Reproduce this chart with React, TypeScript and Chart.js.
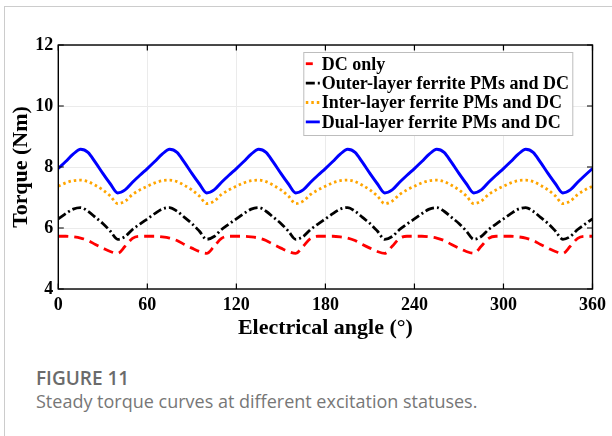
import React, { useEffect, useRef } from "react";
import { Chart, registerables } from "chart.js";

Chart.register(...registerables);

// ---- data ----
const angles = [
  0, 5, 10, 15, 20, 25, 30, 35, 40, 45, 50, 55,
  60, 65, 70, 75, 80, 85, 90, 95, 100, 105, 110, 115,
  120, 125, 130, 135, 140, 145, 150, 155, 160, 165, 170, 175,
  180, 185, 190, 195, 200, 205, 210, 215, 220, 225, 230, 235,
  240, 245, 250, 255, 260, 265, 270, 275, 280, 285, 290, 295,
  300, 305, 310, 315, 320, 325, 330, 335, 340, 345, 350, 355,
  360,
];

const dcOnly = [
  5.73, 5.73, 5.71, 5.67, 5.59, 5.46, 5.34, 5.23, 5.17, 5.4, 5.66, 5.73,
  5.73, 5.73, 5.71, 5.67, 5.59, 5.46, 5.34, 5.23, 5.17, 5.4, 5.66, 5.73,
  5.73, 5.73, 5.71, 5.67, 5.59, 5.46, 5.34, 5.23, 5.17, 5.4, 5.66, 5.73,
  5.73, 5.73, 5.71, 5.67, 5.59, 5.46, 5.34, 5.23, 5.17, 5.4, 5.66, 5.73,
  5.73, 5.73, 5.71, 5.67, 5.59, 5.46, 5.34, 5.23, 5.17, 5.4, 5.66, 5.73,
  5.73, 5.73, 5.71, 5.67, 5.59, 5.46, 5.34, 5.23, 5.17, 5.4, 5.66, 5.73,
  5.73,
];

const outerLayer = [
  6.3, 6.47, 6.62, 6.67, 6.55, 6.35, 6.15, 5.9, 5.63, 5.72, 5.95, 6.13,
  6.3, 6.47, 6.62, 6.67, 6.55, 6.35, 6.15, 5.9, 5.63, 5.72, 5.95, 6.13,
  6.3, 6.47, 6.62, 6.67, 6.55, 6.35, 6.15, 5.9, 5.63, 5.72, 5.95, 6.13,
  6.3, 6.47, 6.62, 6.67, 6.55, 6.35, 6.15, 5.9, 5.63, 5.72, 5.95, 6.13,
  6.3, 6.47, 6.62, 6.67, 6.55, 6.35, 6.15, 5.9, 5.63, 5.72, 5.95, 6.13,
  6.3, 6.47, 6.62, 6.67, 6.55, 6.35, 6.15, 5.9, 5.63, 5.72, 5.95, 6.13,
  6.3,
];

const interLayer = [
  7.37, 7.48, 7.55, 7.57, 7.52, 7.4, 7.25, 7.05, 6.8, 6.88, 7.1, 7.25,
  7.37, 7.48, 7.55, 7.57, 7.52, 7.4, 7.25, 7.05, 6.8, 6.88, 7.1, 7.25,
  7.37, 7.48, 7.55, 7.57, 7.52, 7.4, 7.25, 7.05, 6.8, 6.88, 7.1, 7.25,
  7.37, 7.48, 7.55, 7.57, 7.52, 7.4, 7.25, 7.05, 6.8, 6.88, 7.1, 7.25,
  7.37, 7.48, 7.55, 7.57, 7.52, 7.4, 7.25, 7.05, 6.8, 6.88, 7.1, 7.25,
  7.37, 7.48, 7.55, 7.57, 7.52, 7.4, 7.25, 7.05, 6.8, 6.88, 7.1, 7.25,
  7.37,
];

const dualLayer = [
  7.95, 8.18, 8.42, 8.58, 8.48, 8.15, 7.79, 7.45, 7.15, 7.25, 7.5, 7.73,
  7.95, 8.18, 8.42, 8.58, 8.48, 8.15, 7.79, 7.45, 7.15, 7.25, 7.5, 7.73,
  7.95, 8.18, 8.42, 8.58, 8.48, 8.15, 7.79, 7.45, 7.15, 7.25, 7.5, 7.73,
  7.95, 8.18, 8.42, 8.58, 8.48, 8.15, 7.79, 7.45, 7.15, 7.25, 7.5, 7.73,
  7.95, 8.18, 8.42, 8.58, 8.48, 8.15, 7.79, 7.45, 7.15, 7.25, 7.5, 7.73,
  7.95, 8.18, 8.42, 8.58, 8.48, 8.15, 7.79, 7.45, 7.15, 7.25, 7.5, 7.73,
  7.95,
];

const seriesNames = [
  "DC only",
  "Outer-layer ferrite PMs and DC",
  "Inter-layer ferrite PMs and DC",
  "Dual-layer ferrite PMs and DC",
];
const seriesColors = ["#ff0000", "#000000", "#ffa500", "#0000ff"];
const seriesDashes: number[][] = [[10, 6], [9, 3, 2, 3], [2.5, 3], []];

const xTicks = [0, 60, 120, 180, 240, 300, 360];
const yTicks = [4, 6, 8, 10, 12];

const xTitle = "Electrical angle (°)";
const yTitle = "Torque (Nm)";
const figureLabel = "FIGURE 11";
const figureCaption = "Steady torque curves at different excitation statuses.";

const SERIF = "'Liberation Serif', 'Times New Roman', serif";

const framePlugin = {
  id: "frameAndLegend",
  afterDraw(chart: any) {
    const { ctx, chartArea: a, scales } = chart;
    ctx.save();
    // inward ticks
    ctx.strokeStyle = "#000";
    ctx.lineWidth = 1.2;
    const L = 5.5;
    ctx.beginPath();
    for (const v of xTicks) {
      const px = scales.x.getPixelForValue(v);
      ctx.moveTo(px, a.bottom);
      ctx.lineTo(px, a.bottom - L);
      ctx.moveTo(px, a.top);
      ctx.lineTo(px, a.top + L);
    }
    for (const v of yTicks) {
      const py = scales.y.getPixelForValue(v);
      ctx.moveTo(a.left, py);
      ctx.lineTo(a.left + L, py);
      ctx.moveTo(a.right, py);
      ctx.lineTo(a.right - L, py);
    }
    ctx.stroke();
    // box
    ctx.lineWidth = 1.4;
    ctx.strokeRect(a.left, a.top, a.right - a.left, a.bottom - a.top);

    // legend
    const lx = a.left + 245.5;
    const ly = a.top + 7.5;
    const lw = 269;
    const lh = 83;
    ctx.fillStyle = "#fff";
    ctx.fillRect(lx, ly, lw, lh);
    ctx.strokeStyle = "#bdbdbd";
    ctx.lineWidth = 1;
    ctx.strokeRect(lx, ly, lw, lh);
    ctx.font = `bold 18px ${SERIF}`;
    ctx.textBaseline = "alphabetic";
    ctx.textAlign = "left";
    for (let i = 0; i < seriesNames.length; i++) {
      const base = ly + 17 + i * 19.4;
      const yy = base - 5.8;
      ctx.strokeStyle = seriesColors[i];
      ctx.lineWidth = 2.8;
      ctx.setLineDash(seriesDashes[i]);
      ctx.beginPath();
      ctx.moveTo(lx + 2, yy);
      ctx.lineTo(lx + (i === 0 ? 9 : 16), yy);
      ctx.stroke();
      ctx.setLineDash([]);
      ctx.fillStyle = "#000";
      ctx.fillText(seriesNames[i], lx + 18, base);
    }
    ctx.restore();
  },
};

export default function App() {
  const canvasRef = useRef<HTMLCanvasElement | null>(null);

  useEffect(() => {
    const canvas = canvasRef.current;
    if (!canvas) return;
    const seriesValues = [dcOnly, outerLayer, interLayer, dualLayer];
    const chart = new Chart(canvas, {
      type: "line",
      data: {
        datasets: seriesValues.map((vals, i) => ({
          label: seriesNames[i],
          data: angles.map((x, j) => ({ x, y: vals[j] })),
          borderColor: seriesColors[i],
          borderWidth: i === 3 ? 3 : 2.8,
          borderDash: seriesDashes[i],
          pointRadius: 0,
          fill: false,
          cubicInterpolationMode: "monotone" as const,
        })),
      },
      options: {
        animation: false,
        responsive: false,
        maintainAspectRatio: false,
        devicePixelRatio: 1,
        layout: { padding: { left: 0, top: 45, right: 17, bottom: 0 } },
        plugins: {
          legend: { display: false },
          tooltip: { enabled: false },
        },
        scales: {
          x: {
            type: "linear",
            min: 0,
            max: 360,
            afterBuildTicks: (s: any) => {
              s.ticks = xTicks.map((v) => ({ value: v }));
            },
            ticks: {
              color: "#000",
              font: { family: SERIF, size: 18, weight: "bold" },
              padding: 6,
              maxRotation: 0,
              autoSkip: false,
            },
            grid: { color: "#ebebeb", drawTicks: false, lineWidth: 1 },
            border: { display: false },
            title: {
              display: true,
              text: xTitle,
              color: "#000",
              font: { family: SERIF, size: 22, weight: "bold" },
              padding: { top: 0, bottom: 3 },
            },
            afterFit: (s: any) => {
              s.height = 56;
            },
          },
          y: {
            min: 4,
            max: 12,
            afterBuildTicks: (s: any) => {
              s.ticks = yTicks.map((v) => ({ value: v }));
            },
            ticks: {
              color: "#000",
              font: { family: SERIF, size: 18, weight: "bold" },
              padding: 5,
            },
            grid: { color: "#ebebeb", drawTicks: false, lineWidth: 1 },
            border: { display: false },
            title: {
              display: true,
              text: yTitle,
              color: "#000",
              font: { family: SERIF, size: 22, weight: "bold" },
              padding: { top: 8.5, bottom: 0 },
            },
            afterFit: (s: any) => {
              s.width = 58.3;
            },
          },
        },
      },
      plugins: [framePlugin],
    } as any);
    return () => chart.destroy();
  }, []);

  return (
    <div
      style={{
        position: "absolute",
        left: 0,
        top: 0,
        width: 612,
        height: 436,
        overflow: "hidden",
        background: "#fff",
      }}
    >
      <div
        style={{
          position: "absolute",
          left: 4,
          top: 6,
          width: 700,
          height: 500,
          border: "1px solid #cccccc",
          boxSizing: "border-box",
        }}
      />
      <canvas
        ref={canvasRef}
        width={612}
        height={345}
        style={{ position: "absolute", left: 0, top: 0, width: 612, height: 345 }}
      />
      <div
        style={{
          position: "absolute",
          left: 36,
          top: 368.6,
          fontFamily: "'Open Sans', sans-serif",
          fontWeight: 600,
          fontSize: 19,
          lineHeight: "19px",
          color: "#6b6b6b",
          whiteSpace: "nowrap",
        }}
      >
        {figureLabel}
      </div>
      <div
        style={{
          position: "absolute",
          left: 36,
          top: 391.7,
          fontFamily: "'Open Sans', sans-serif",
          fontWeight: 400,
          fontSize: 18,
          lineHeight: "18px",
          color: "#777777",
          whiteSpace: "nowrap",
        }}
      >
        {figureCaption}
      </div>
    </div>
  );
}
